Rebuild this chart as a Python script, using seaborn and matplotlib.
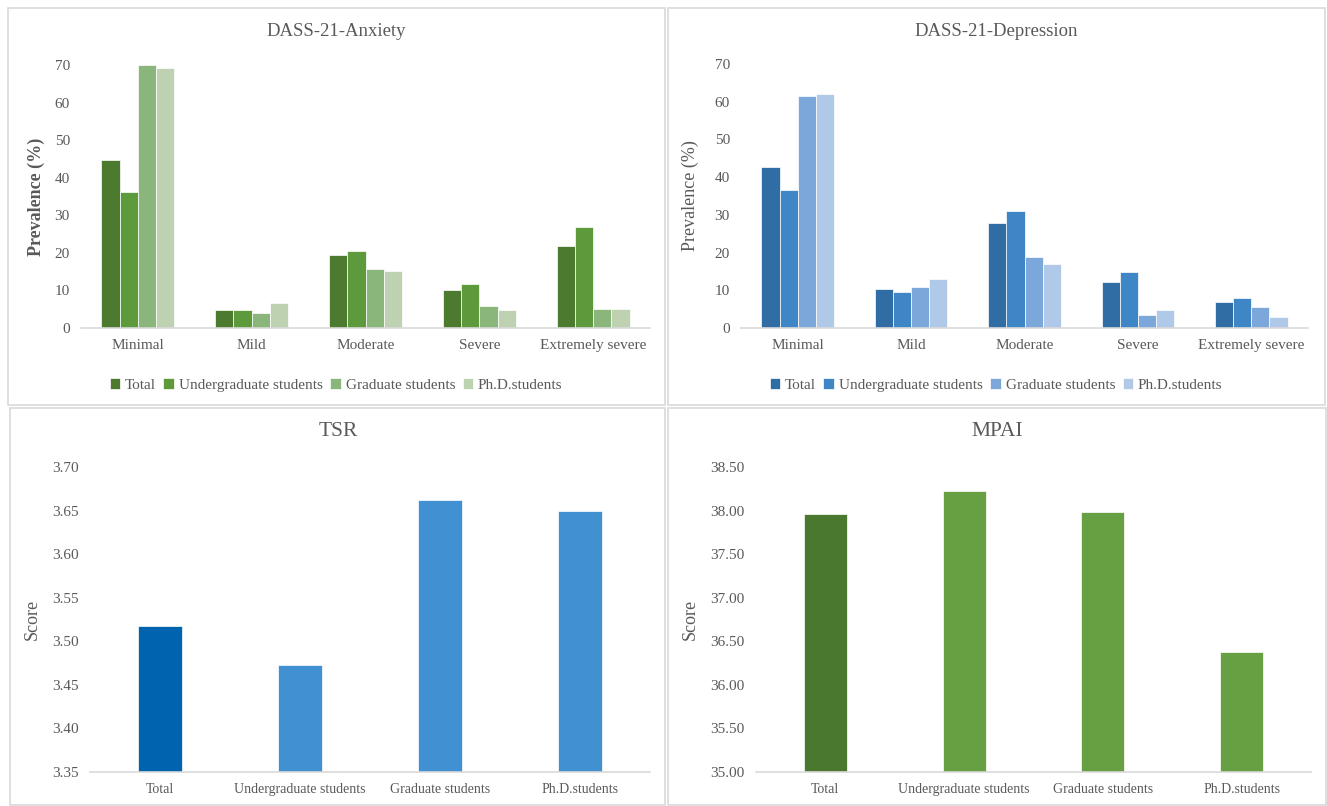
import numpy as np
import pandas as pd
import matplotlib
matplotlib.use("Agg")
import matplotlib.pyplot as plt
import seaborn as sns
from matplotlib.patches import Rectangle
from matplotlib.ticker import FormatStrFormatter, MultipleLocator

sns.set_theme(style="white")
plt.rcParams['font.family'] = ['Liberation Serif', 'DejaVu Serif']

# ---------------- data ----------------
severity = ["Minimal", "Mild", "Moderate", "Severe", "Extremely severe"]
groups = ["Total", "Undergraduate students", "Graduate students", "Ph.D.students"]

anx_total = [44.6, 4.8, 19.3, 10.0, 21.7]
anx_ug = [36.3, 4.8, 20.5, 11.8, 27.0]
anx_grad = [69.9, 3.9, 15.8, 5.8, 5.0]
anx_phd = [69.2, 6.6, 15.1, 4.7, 5.0]

dep_total = [42.8, 10.3, 27.9, 12.2, 6.9]
dep_ug = [36.5, 9.6, 31.1, 14.8, 7.9]
dep_grad = [61.4, 11.0, 18.9, 3.4, 5.6]
dep_phd = [62.1, 13.0, 17.0, 4.9, 2.9]

tsr_scores = [3.518, 3.473, 3.662, 3.650]
mpai_scores = [37.96, 38.23, 37.98, 36.38]

anx_colors = ["#4C7A2E", "#5C9A3B", "#8BB67B", "#BED2B1"]
dep_colors = ["#2F6DA4", "#3E86C5", "#7CA7DB", "#B1C9E8"]
tsr_colors = ["#0063AF", "#4191D2", "#4191D2", "#4191D2"]
mpai_colors = ["#4A782E", "#66A043", "#66A043", "#66A043"]

TXT = "#595959"
GRID = "#D9D9D9"

def long_df(series_list):
    rows = []
    for g, vals in zip(groups, series_list):
        for s, v in zip(severity, vals):
            rows.append({"Severity": s, "Group": g, "Value": v})
    return pd.DataFrame(rows)

anx_df = long_df([anx_total, anx_ug, anx_grad, anx_phd])
dep_df = long_df([dep_total, dep_ug, dep_grad, dep_phd])
tsr_df = pd.DataFrame({"Group": groups, "Score": tsr_scores})
mpai_df = pd.DataFrame({"Group": groups, "Score": mpai_scores})

W, H = 1327, 806
fig = plt.figure(figsize=(W / 100, H / 100), dpi=100)
fig.patch.set_facecolor("white")

def rect_px(x0, y0, x1, y1):
    return [x0 / W, (H - y1) / H, (x1 - x0) / W, (y1 - y0) / H]

# panel borders
for (x0, y0, x1, y1) in [(8, 8, 665, 405), (668, 8, 1325, 405),
                         (10, 408, 665, 805), (668, 408, 1326, 805)]:
    fig.patches.append(Rectangle((x0 / W, (H - y1) / H), (x1 - x0) / W, (y1 - y0) / H,
                                 transform=fig.transFigure, fill=False,
                                 edgecolor=GRID, linewidth=1.2))

def style_axes(ax):
    for sp in ["top", "right", "left"]:
        ax.spines[sp].set_visible(False)
    ax.spines["bottom"].set_color(GRID)
    ax.spines["bottom"].set_linewidth(1.2)
    ax.tick_params(axis="both", length=0, colors=TXT, labelsize=11)
    ax.tick_params(axis="y", pad=8)
    ax.tick_params(axis="x", pad=8)
    ax.set_xlabel("")
    ax.grid(False)

def grouped(ax_rect, df, colors, title, title_x, ylabel, ylabel_bold, ylab_x, legend_y):
    ax = fig.add_axes(rect_px(*ax_rect))
    sns.barplot(data=df, x="Severity", y="Value", hue="Group", order=severity,
                hue_order=groups, palette=colors, saturation=1, width=0.64, ax=ax,
                edgecolor="white", linewidth=0.5, errorbar=None)
    ax.set_ylim(0, 70)
    ax.yaxis.set_major_locator(MultipleLocator(10))
    style_axes(ax)
    ax.set_ylabel(ylabel, fontsize=13, color=TXT,
                  fontweight="bold" if ylabel_bold else "normal")
    ax.yaxis.set_label_coords(ylab_x, 0.5)
    ax.get_legend().remove()
    handles, labels = ax.get_legend_handles_labels()
    fig.legend(handles, labels, loc="center", bbox_to_anchor=(title_x / W, (H - legend_y) / H),
               ncol=4, frameon=False, fontsize=11, handlelength=0.7, handleheight=0.7,
               handletextpad=0.3, columnspacing=0.5, labelcolor=TXT)
    fig.text(title_x / W, (H - 32) / H, title, ha="center", va="center",
             fontsize=13.5, color=TXT)
    return ax

grouped((81, 65, 650, 328), anx_df, anx_colors, "DASS-21-Anxiety", 336,
        "Prevalence (%)", True, -0.063, 385)
grouped((741, 64, 1308, 328), dep_df, dep_colors, "DASS-21-Depression", 996,
        "Prevalence (%)", False, -0.074, 385)

def single(ax_rect, df, colors, title, title_x, ylim, step, ylab_x):
    ax = fig.add_axes(rect_px(*ax_rect))
    sns.barplot(data=df, x="Group", y="Score", hue="Group", order=groups,
                hue_order=groups, palette=colors, saturation=1, width=0.31, dodge=False,
                legend=False, ax=ax, edgecolor="white", linewidth=0.5, errorbar=None)
    ax.set_ylim(*ylim)
    ax.yaxis.set_major_locator(MultipleLocator(step))
    ax.yaxis.set_major_formatter(FormatStrFormatter("%.2f"))
    style_axes(ax)
    ax.tick_params(axis="x", labelsize=10)
    ax.set_ylabel("Score", fontsize=13, color=TXT)
    ax.yaxis.set_label_coords(ylab_x, 0.5)
    fig.text(title_x / W, (H - 432) / H, title, ha="center", va="center",
             fontsize=15.5, color=TXT)
    return ax

single((90, 467, 650, 772), tsr_df, tsr_colors, "TSR", 338, (3.35, 3.70), 0.05, -0.0875)
single((756, 467, 1311, 772), mpai_df, mpai_colors, "MPAI", 997, (35.0, 38.5), 0.5, -0.103)

fig.savefig("out.png", dpi=100, facecolor="white")
